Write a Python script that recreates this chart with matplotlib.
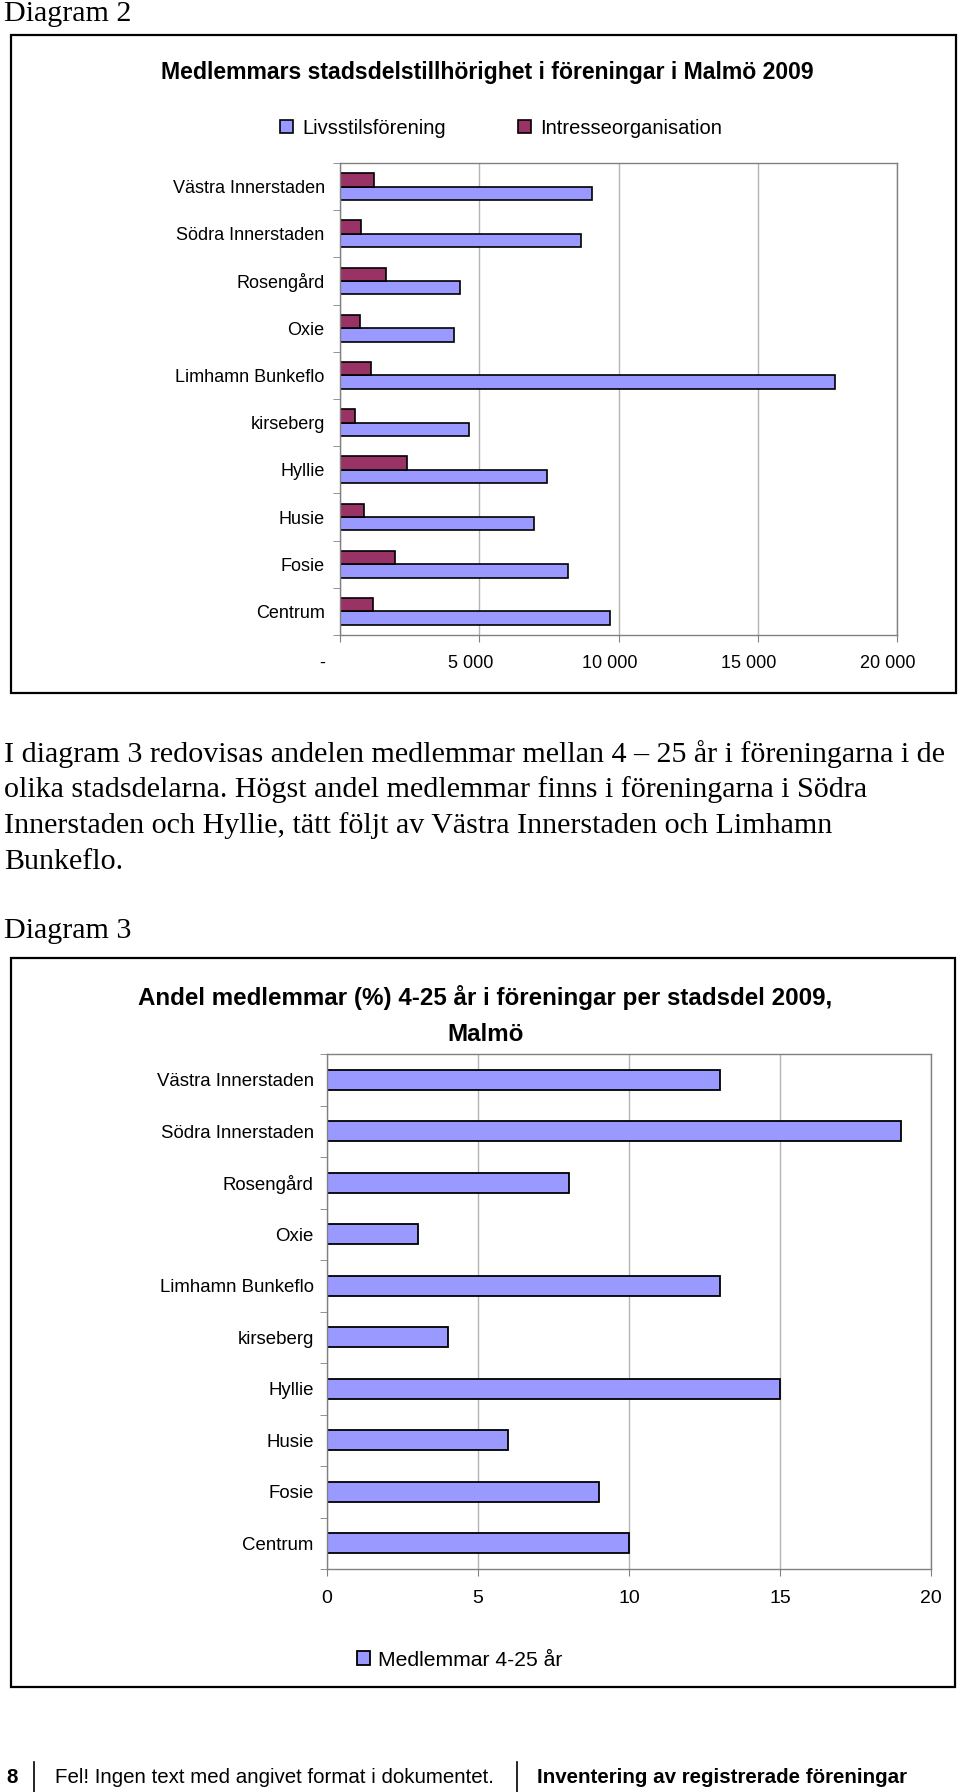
import numpy as np
import matplotlib.pyplot as plt
from matplotlib.patches import Rectangle
from matplotlib.lines import Line2D
from matplotlib.transforms import ScaledTranslation

# -----------------------------
# Data
# -----------------------------
districts = ["Västra Innerstaden", "Södra Innerstaden", "Rosengård", "Oxie",
             "Limhamn Bunkeflo", "kirseberg", "Hyllie", "Husie", "Fosie", "Centrum"]
livsstil = [9040, 8660, 4310, 4110, 17770, 4630, 7430, 6960, 8190, 9680]
intresse = [1230, 750, 1650, 710, 1130, 550, 2400, 870, 1970, 1190]
andel_4_25 = [13, 19, 8, 3, 13, 4, 15, 6, 9, 10]

x1_ticks = [0, 5000, 10000, 15000, 20000]
x1_labels = ["-", "5 000", "10 000", "15 000", "20 000"]
x2_ticks = [0, 5, 10, 15, 20]

paragraph = [
    "I diagram 3 redovisas andelen medlemmar mellan 4 \u2013 25 år i föreningarna i de",
    "olika stadsdelarna. Högst andel medlemmar finns i föreningarna i Södra",
    "Innerstaden och Hyllie, tätt följt av Västra Innerstaden och Limhamn",
    "Bunkeflo.",
]

BLUE = "#9999ff"
MAROON = "#993366"
GRID = "#b4b4b4"
SPINE = "#808080"

SANS = ["Liberation Sans", "DejaVu Sans"]
SERIF = ["Liberation Serif", "DejaVu Serif"]

W, H = 960, 1792
fig = plt.figure(figsize=(W / 100, H / 100), dpi=100)


def fx(x):
    return x / W


def fy(y):
    return 1 - y / H


def box(x0, y0, x1, y1):
    return [fx(x0), fy(y1), (x1 - x0) / W, (y1 - y0) / H]


def frame(x0, y0, x1, y1):
    fig.patches.append(Rectangle((fx(x0), fy(y1)), (x1 - x0) / W, (y1 - y0) / H,
                                 transform=fig.transFigure, fill=False,
                                 edgecolor="black", linewidth=1.6))


def style_axes(ax):
    for s in ax.spines.values():
        s.set_color(SPINE)
        s.set_linewidth(1.0)
    ax.grid(axis="x", color=GRID, linewidth=1.0)
    ax.set_axisbelow(True)
    ax.tick_params(axis="x", which="major", direction="out", length=5,
                   color=SPINE)
    ax.tick_params(axis="y", which="major", length=0)
    ax.tick_params(axis="y", which="minor", direction="out", length=5,
                   color=SPINE)


y = np.arange(len(districts))

# -----------------------------
# Page text
# -----------------------------
fig.text(fx(4), fy(14), "Diagram 2", family=SERIF, fontsize=21.6,
         ha="left", va="center")
for i, line in enumerate(paragraph):
    fig.text(fx(4), fy(754 + i * 36), line, family=SERIF, fontsize=21.6,
             ha="left", va="center")
fig.text(fx(4), fy(931), "Diagram 3", family=SERIF, fontsize=21.6,
         ha="left", va="center")

# -----------------------------
# Diagram 2
# -----------------------------
frame(11, 35, 956, 693)
fig.text(fx(487), fy(72), "Medlemmars stadsdelstillhörighet i föreningar i Malmö 2009",
         family=SANS, fontsize=16.6, fontweight="bold", ha="center", va="center")

ax1 = fig.add_axes(box(340, 163, 897, 635))
bh = 0.283
b_liv = ax1.barh(y + bh / 2, livsstil, height=bh, color=BLUE,
                 edgecolor="black", linewidth=1.2, label="Livsstilsförening")
b_int = ax1.barh(y - bh / 2, intresse, height=bh, color=MAROON,
                 edgecolor="black", linewidth=1.2, label="Intresseorganisation")
ax1.set_xlim(0, 20000)
ax1.set_ylim(len(districts) - 0.5, -0.5)
ax1.set_yticks(y)
ax1.set_yticklabels(districts, family=SANS, fontsize=13)
ax1.set_yticks(np.arange(len(districts) + 1) - 0.5, minor=True)
ax1.set_xticks(x1_ticks)
ax1.set_xticklabels(x1_labels, family=SANS, fontsize=13)
style_axes(ax1)
ax1.tick_params(axis="y", which="major", pad=11)
ax1.tick_params(axis="x", which="major", pad=9.5)

ax1.legend(handles=[b_liv, b_int], loc="center", ncol=2,
           bbox_to_anchor=(fx(501), fy(128)), bbox_transform=fig.transFigure,
           frameon=False, prop={"family": SANS, "size": 14.5},
           handlelength=0.65, handleheight=0.65, handletextpad=0.45,
           columnspacing=3.6, borderpad=0)

# -----------------------------
# Diagram 3
# -----------------------------
frame(11, 958, 955, 1687)
fig.text(fx(485), fy(997), "Andel medlemmar (%) 4-25 år i föreningar per stadsdel 2009,",
         family=SANS, fontsize=17.4, fontweight="bold", ha="center", va="center")
fig.text(fx(486), fy(1034), "Malmö",
         family=SANS, fontsize=17.4, fontweight="bold", ha="center", va="center")

ax2 = fig.add_axes(box(327, 1054, 931, 1569))
b_and = ax2.barh(y, andel_4_25, height=0.39, color=BLUE, edgecolor="black",
                 linewidth=1.3, label="Medlemmar 4-25 år")
ax2.set_xlim(0, 20)
ax2.set_ylim(len(districts) - 0.5, -0.5)
ax2.set_yticks(y)
ax2.set_yticklabels(districts, family=SANS, fontsize=13.4)
ax2.set_yticks(np.arange(len(districts) + 1) - 0.5, minor=True)
ax2.set_xticks(x2_ticks)
ax2.set_xticklabels([str(v) for v in x2_ticks], family=SANS, fontsize=14)
style_axes(ax2)
ax2.tick_params(axis="y", which="major", pad=9.5)
ax2.tick_params(axis="x", which="major", pad=10)

ax2.legend(handles=[b_and], loc="center",
           bbox_to_anchor=(fx(460), fy(1660)), bbox_transform=fig.transFigure,
           frameon=False, prop={"family": SANS, "size": 15.2},
           handlelength=0.6, handleheight=0.65, handletextpad=0.38, borderpad=0)

# shift diagram 2 tick labels a little left, as in the original
for lab, t in zip(ax1.get_xticklabels(), x1_ticks):
    dx = -0.18 if t == 0 else -0.09
    lab.set_transform(lab.get_transform() + ScaledTranslation(dx, 0, fig.dpi_scale_trans))

# -----------------------------
# Footer
# -----------------------------
fig.text(fx(6), fy(1777), "8", family=SANS, fontsize=14.8, fontweight="bold",
         ha="left", va="center")
fig.text(fx(55), fy(1777), "Fel! Ingen text med angivet format i dokumentet.",
         family=SANS, fontsize=14.8, ha="left", va="center")
fig.text(fx(537), fy(1777), "Inventering av registrerade föreningar",
         family=SANS, fontsize=14.8, fontweight="bold", ha="left", va="center")
for xb in (34, 517):
    fig.lines.append(Line2D([fx(xb), fx(xb)], [fy(1762), fy(1792)],
                            transform=fig.transFigure, color="black", linewidth=1.2))

fig.savefig("out.png", dpi=100, facecolor="white")
